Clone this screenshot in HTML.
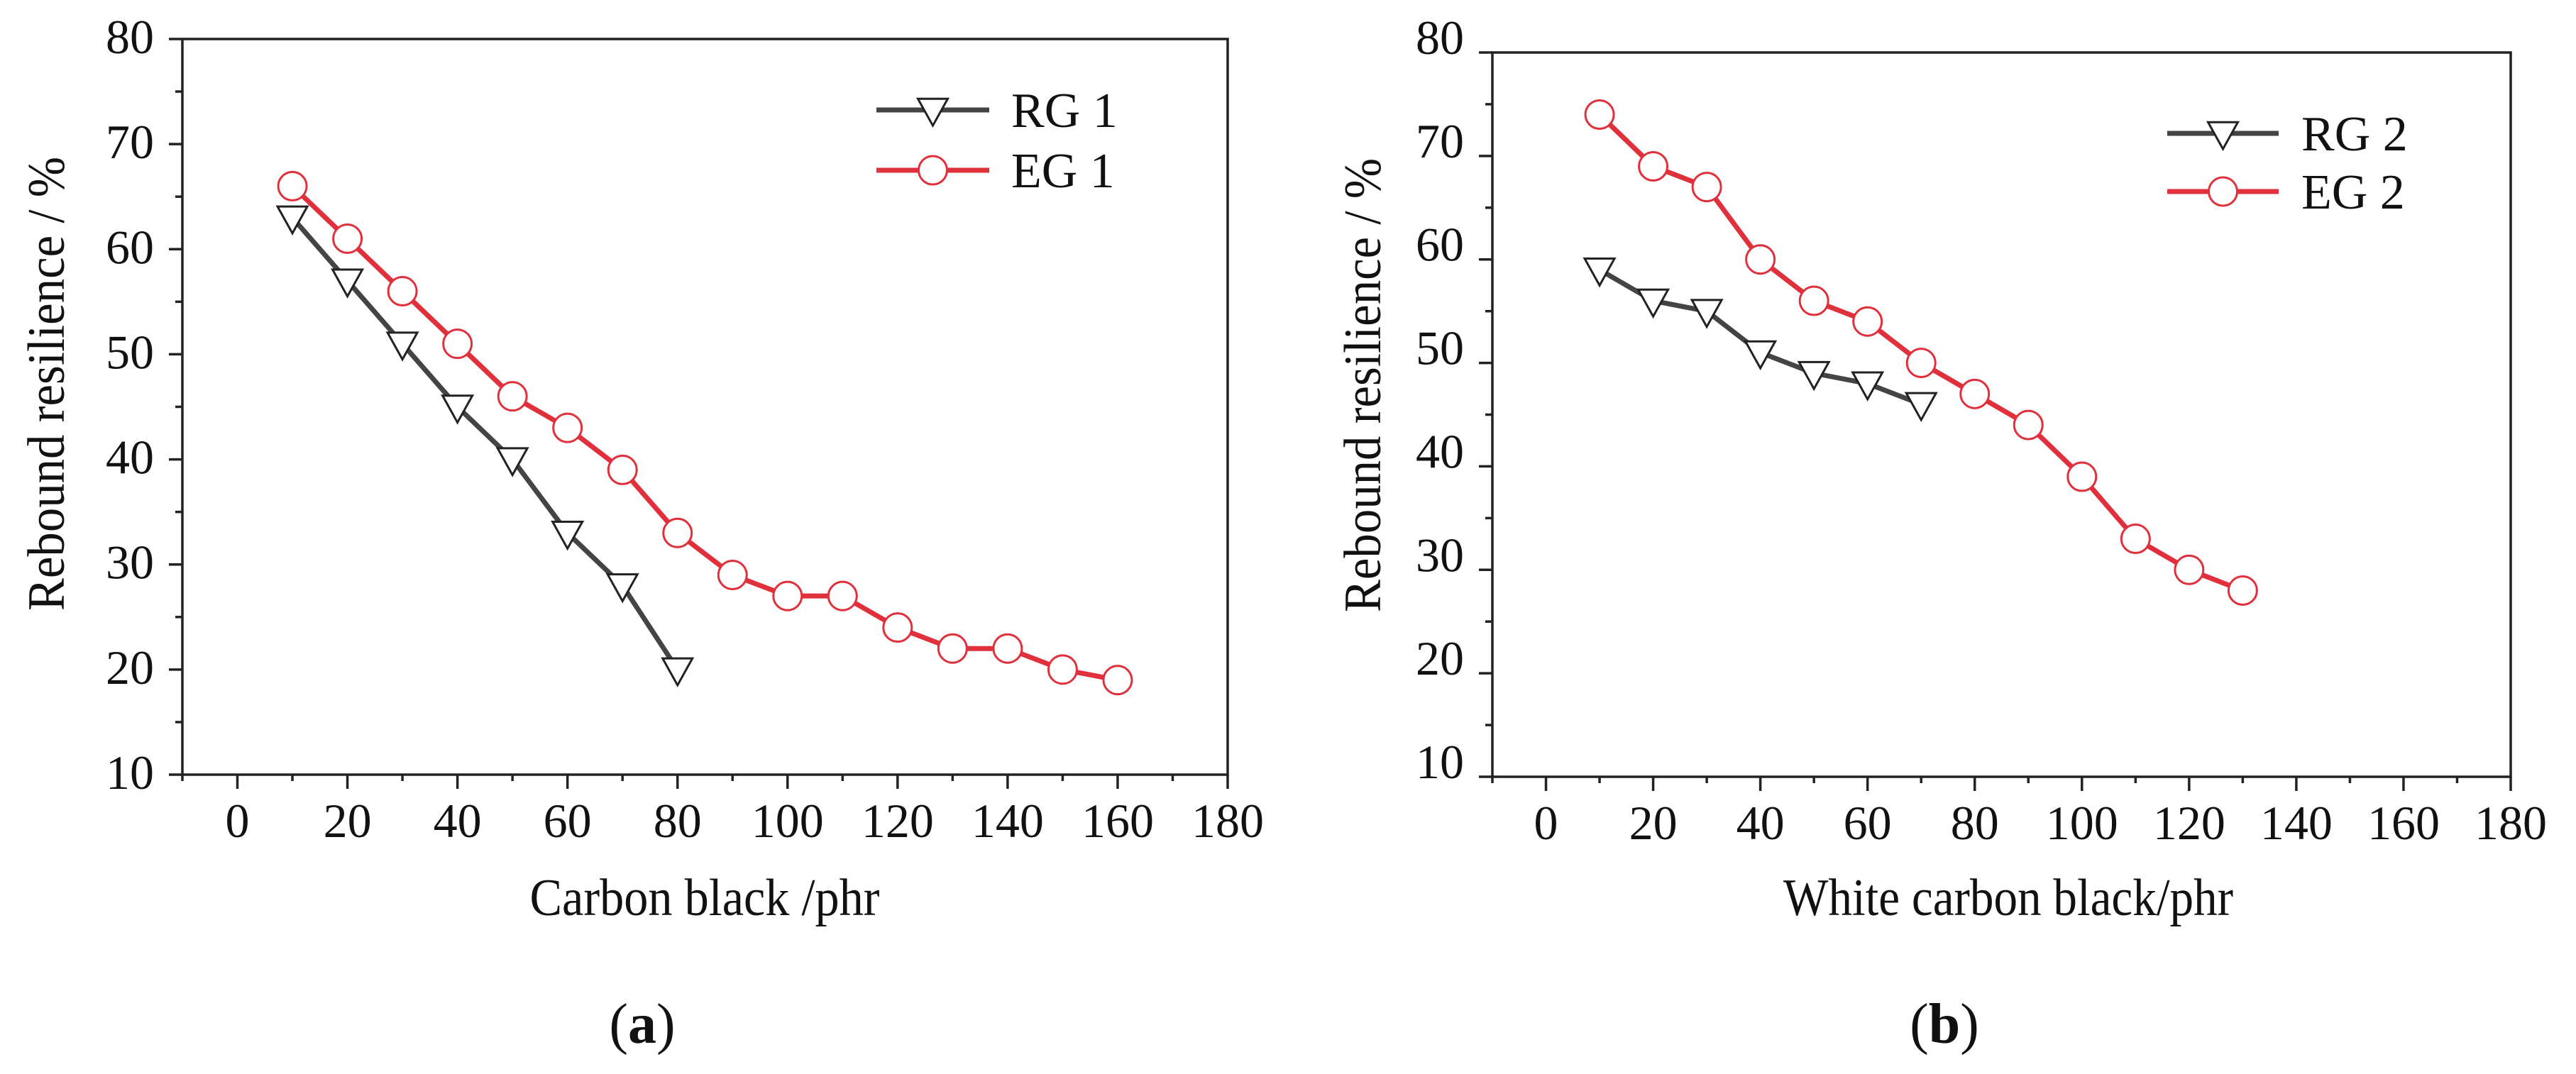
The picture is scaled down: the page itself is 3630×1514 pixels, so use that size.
<!DOCTYPE html>
<html><head><meta charset="utf-8"><style>
html,body{margin:0;padding:0;background:#fff;}
svg{display:block;font-family:"Liberation Serif",serif;}
</style></head><body>
<svg id="fig" width="3630" height="1514" viewBox="0 0 3630 1514" xmlns="http://www.w3.org/2000/svg"></svg>
<script>
const xTicks=[0,20,40,60,80,100,120,140,160,180];
const yTicks=[10,20,30,40,50,60,70,80];
const xA=[10,20,30,40,50,60,70,80,90,100,110,120,130,140,150,160];
const rg1=[63,57,51,45,40,33,28,20];
const eg1=[66,61,56,51,46,43,39,33,29,27,27,24,22,22,20,19];
const xB=[10,20,30,40,50,60,70,80,90,100,110,120,130];
const rg2=[59,56,55,51,49,48,46];
const eg2=[74,69,67,60,56,54,50,47,44,39,33,30,28];

const NS="http://www.w3.org/2000/svg";
const svg=document.getElementById('fig');
function mk(tag,attrs,parent){const e=document.createElementNS(NS,tag);for(const k in attrs)e.setAttribute(k,attrs[k]);(parent||svg).appendChild(e);return e;}

function panel(cfg){
  const g=mk('g',{});
  
  
  const X=v=>cfg.L+(v+10)/190*(cfg.R-cfg.L);
  const Y=v=>cfg.B-(v-10)/70*(cfg.B-cfg.T);
  const fr=mk('rect',{x:cfg.L,y:cfg.T,width:cfg.R-cfg.L,height:cfg.B-cfg.T,fill:'none',stroke:'#222','stroke-width':3.5},g);
  
  
  for(let v=10;v<=80;v+=5){
    const major=v%10===0;
    mk('line',{x1:cfg.L-(major?19:10),x2:cfg.L,y1:Y(v),y2:Y(v),stroke:'#222','stroke-width':3.5},g);
  }
  yTicks.forEach(v=>{
    const t=mk('text',{x:cfg.L-40,y:Y(v)+cfg.yOff,'font-size':68,'text-anchor':'end',fill:'#111'},g);
    t.textContent=v;
    
    
  });
  for(let v=-10;v<=180;v+=10){
    const major=v%20===0;
    mk('line',{x1:X(v),x2:X(v),y1:cfg.B,y2:cfg.B+(major?20:9),stroke:'#222','stroke-width':3.5},g);
  }
  xTicks.forEach(v=>{
    const t=mk('text',{x:X(v),y:cfg.B+88,'font-size':68,'text-anchor':'middle',fill:'#111'},g);
    t.textContent=v;
    
    
  });
  const xt=mk('text',{x:cfg.xtX,y:1290,'font-size':74,'text-anchor':'middle',fill:'#111',textLength:cfg.xtW,lengthAdjust:'spacingAndGlyphs'},g);
  xt.textContent=cfg.xTitle;
  
  
  const yt=mk('text',{x:0,y:0,'font-size':74,'text-anchor':'middle',fill:'#111',textLength:640,lengthAdjust:'spacingAndGlyphs',transform:`translate(${cfg.ytX},${cfg.ytY}) rotate(-90)`},g);
  yt.textContent='Rebound resilience / %';
  
  
  const lab=mk('text',{x:cfg.labX,y:1470,'font-size':80,'text-anchor':'middle',fill:'#111'},g);
  lab.innerHTML='(<tspan font-weight="bold">'+cfg.lab+'</tspan>)';
  
  
  function tri(cx,cy,parent){
    const r=21;
    return mk('polygon',{points:`${cx-r},${cy-r*0.75} ${cx+r},${cy-r*0.75} ${cx},${cy+r*1.05}`,fill:'#fff',stroke:'#222','stroke-width':3},parent);
  }
  function circ(cx,cy,parent){return mk('circle',{cx:cx,cy:cy,r:20,fill:'#fff',stroke:'#e0303c','stroke-width':3},parent);}
  function series(xs,ys,color,marker,name){
    const sg=mk('g',{},g);
    
    
    const pts=ys.map((v,i)=>X(xs[i])+','+Y(v)).join(' ');
    mk('polyline',{points:pts,fill:'none',stroke:color,'stroke-width':7},sg);
    ys.forEach((v,i)=>{
      const m=marker(X(xs[i]),Y(v),sg);
      
      
    });
  }
  series(cfg.xs,cfg.rg,'#444',tri,'series-'+cfg.rgName.replace(' ','').toLowerCase());
  series(cfg.xs,cfg.eg,'#e0303c',circ,'series-'+cfg.egName.replace(' ','').toLowerCase());
  const lg=mk('g',{},g);
  
  
  [[cfg.rgName,'#444',tri,cfg.lgY1],[cfg.egName,'#e0303c',circ,cfg.lgY2]].forEach(([nm,col,mf,yy])=>{
    const e=mk('g',{},lg);
    
    
    mk('line',{x1:cfg.lgX1,x2:cfg.lgX2,y1:yy,y2:yy,stroke:col,'stroke-width':7},e);
    mf((cfg.lgX1+cfg.lgX2)/2,yy,e);
    const t=mk('text',{x:cfg.lgT,y:yy+24,'font-size':70,fill:'#111'},e);
    t.textContent=nm;
  });
}
panel({name:'chart-a',L:257,R:1730,T:55,B:1092,yOff:20,xTitle:'Carbon black /phr',xtX:993,xtW:493,ytX:90,ytY:541,labX:905,lab:'a',
  xs:xA,rg:rg1,eg:eg1,rgName:'RG 1',egName:'EG 1',lgX1:1235,lgX2:1394,lgY1:155,lgY2:240,lgT:1425});
panel({name:'chart-b',L:2103,R:3538,T:74,B:1095,yOff:2,xTitle:'White carbon black/phr',xtX:2830,xtW:634,ytX:1945,ytY:543,labX:2740,lab:'b',
  xs:xB,rg:rg2,eg:eg2,rgName:'RG 2',egName:'EG 2',lgX1:3054,lgX2:3211,lgY1:188,lgY2:270,lgT:3243});
</script>
</body></html>
